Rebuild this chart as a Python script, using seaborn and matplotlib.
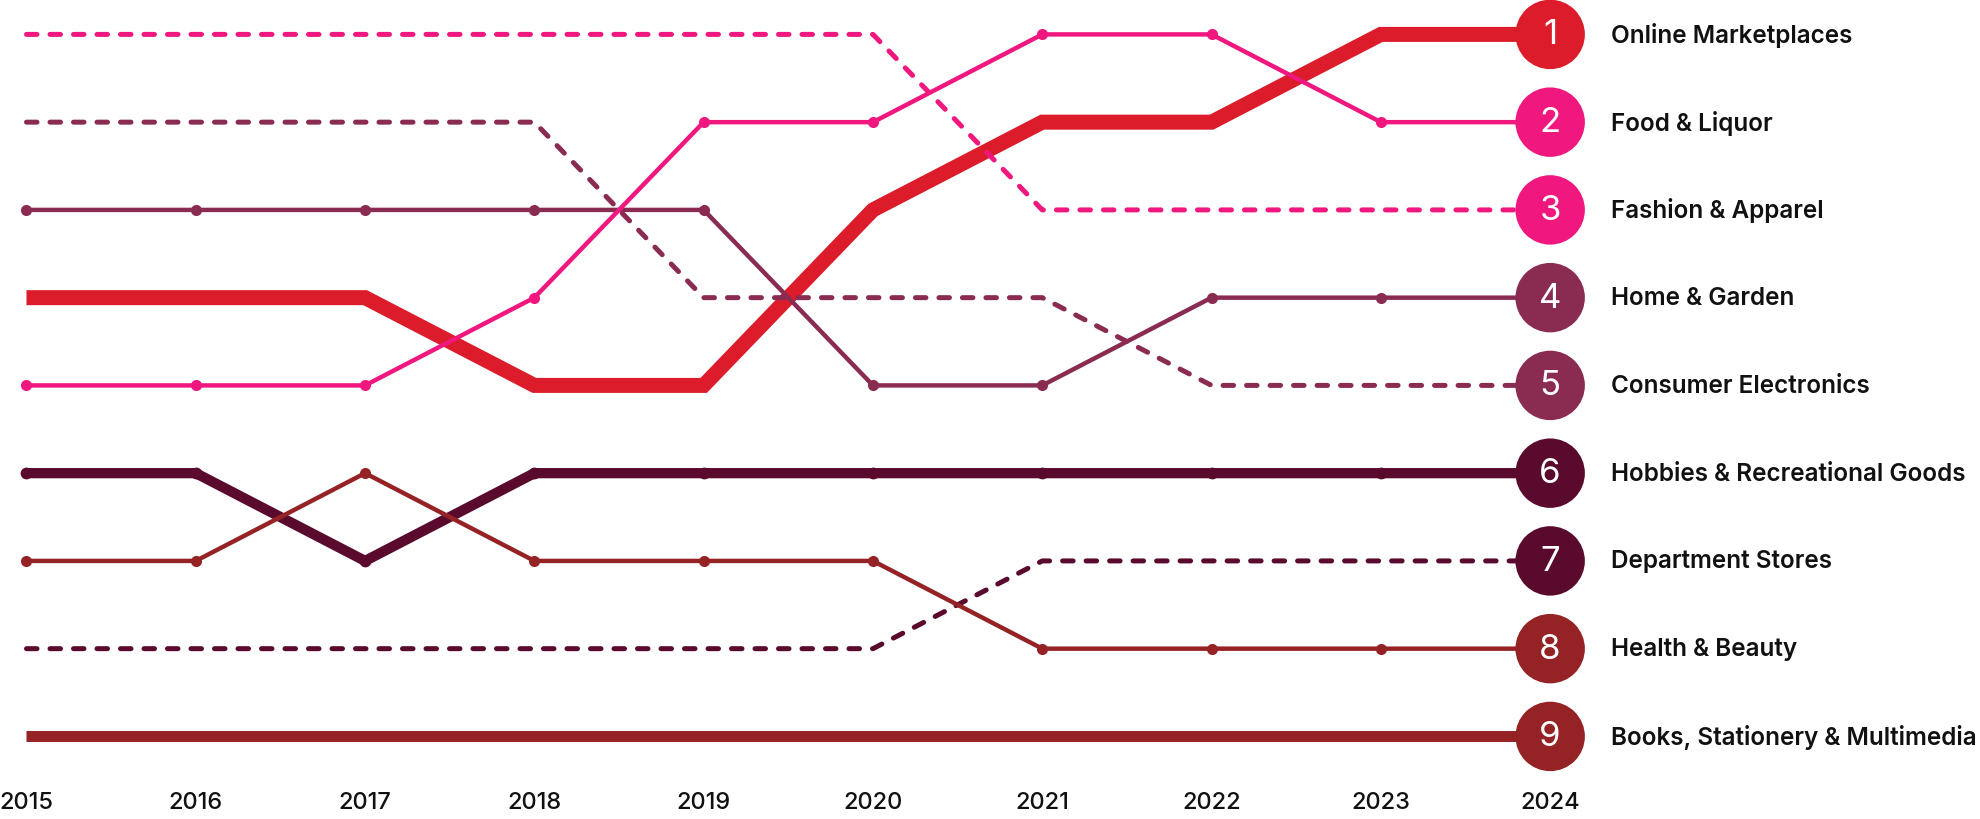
import matplotlib
matplotlib.use('AGG')
import matplotlib.pyplot as plt
import matplotlib.transforms as mtransforms
import seaborn as sns
import pandas as pd

years = [2015, 2016, 2017, 2018, 2019, 2020, 2021, 2022, 2023, 2024]

categories = [
    'Online Marketplaces',
    'Food & Liquor',
    'Fashion & Apparel',
    'Home & Garden',
    'Consumer Electronics',
    'Hobbies & Recreational Goods',
    'Department Stores',
    'Health & Beauty',
    'Books, Stationery & Multimedia',
]

# rank per year (1 = top)
online_marketplaces = [4, 4, 4, 5, 5, 3, 2, 2, 1, 1]
food_liquor = [5, 5, 5, 4, 2, 2, 1, 1, 2, 2]
fashion_apparel = [1, 1, 1, 1, 1, 1, 3, 3, 3, 3]
home_garden = [3, 3, 3, 3, 3, 5, 5, 4, 4, 4]
consumer_electronics = [2, 2, 2, 2, 4, 4, 4, 5, 5, 5]
hobbies_recreational = [6, 6, 7, 6, 6, 6, 6, 6, 6, 6]
department_stores = [8, 8, 8, 8, 8, 8, 7, 7, 7, 7]
health_beauty = [7, 7, 6, 7, 7, 7, 8, 8, 8, 8]
books_stationery = [9, 9, 9, 9, 9, 9, 9, 9, 9, 9]

all_ranks = [online_marketplaces, food_liquor, fashion_apparel, home_garden,
             consumer_electronics, hobbies_recreational, department_stores,
             health_beauty, books_stationery]

rows = []
for cat, ranks in zip(categories, all_ranks):
    for yr, rk in zip(years, ranks):
        rows.append([cat, yr, rk])
df = pd.DataFrame(rows, columns=['category', 'year', 'rank'])

RED = '#dc1c2b'
PINK = '#f0177f'
PLUM = '#8a2b52'
MAROON = '#5a0b2d'
BROWN = '#952326'

dash = (0, (2.1, 2.6))
styles = {
    'Online Marketplaces': dict(color=RED, lw=10.8, ls='-', marker=None, ms=0),
    'Food & Liquor': dict(color=PINK, lw=3.2, ls='-', marker='o', ms=8),
    'Fashion & Apparel': dict(color=PINK, lw=3.6, ls=dash, marker=None, ms=0),
    'Home & Garden': dict(color=PLUM, lw=3.2, ls='-', marker='o', ms=8),
    'Consumer Electronics': dict(color=PLUM, lw=3.6, ls=dash, marker=None, ms=0),
    'Hobbies & Recreational Goods': dict(color=MAROON, lw=7.4, ls='-', marker='o', ms=8.5),
    'Department Stores': dict(color=MAROON, lw=3.6, ls=dash, marker=None, ms=0),
    'Health & Beauty': dict(color=BROWN, lw=3.2, ls='-', marker='o', ms=8),
    'Books, Stationery & Multimedia': dict(color=BROWN, lw=7.9, ls='-', marker=None, ms=0),
}

draw_order = [
    'Books, Stationery & Multimedia',
    'Hobbies & Recreational Goods',
    'Online Marketplaces',
    'Department Stores',
    'Consumer Electronics',
    'Fashion & Apparel',
    'Health & Beauty',
    'Home & Garden',
    'Food & Liquor',
]

sns.set_theme(style='white')
plt.rcParams['font.family'] = ['Inter', 'DejaVu Sans']

fig = plt.figure(figsize=(19.8, 8.2), dpi=100)
ax = fig.add_axes([0, 0, 1, 1])

for z, cat in enumerate(draw_order):
    st = styles[cat]
    sub = df[df['category'] == cat]
    kw = {}
    if st['marker']:
        kw = dict(marker='o', markersize=st['ms'], markeredgewidth=0)
    sns.lineplot(data=sub, x='year', y='rank', ax=ax, color=st['color'],
                 linewidth=st['lw'], linestyle=st['ls'], estimator=None,
                 sort=False, legend=False, zorder=2 + z,
                 solid_joinstyle='miter', solid_capstyle='butt',
                 dash_capstyle='round', **kw)

end = df[df['year'] == years[-1]]
palette = {c: styles[c]['color'] for c in categories}
sns.scatterplot(data=end, x='year', y='rank', hue='category', palette=palette,
                s=2500, linewidth=0, legend=False, ax=ax, zorder=20)

for _, r in end.iterrows():
    ax.text(r['year'], r['rank'], str(r['rank']), color='white', ha='center',
            va='center', fontsize=25, zorder=21)
    ax.annotate(r['category'], (r['year'], r['rank']), xytext=(44, 0),
                textcoords='offset points', ha='left', va='center',
                fontsize=17.5, fontweight='semibold', color='#111111')

trans = mtransforms.blended_transform_factory(ax.transData, ax.transAxes)
for yr in years:
    ax.text(yr, 0.0205, str(yr), transform=trans, ha='center', va='center',
            fontsize=17, fontweight='medium', color='#111111')

ax.set_xlim(2014.8435, 2026.539)
ax.set_ylim(9.941, 0.5966)
ax.axis('off')

plt.savefig('out.png', dpi=100)
